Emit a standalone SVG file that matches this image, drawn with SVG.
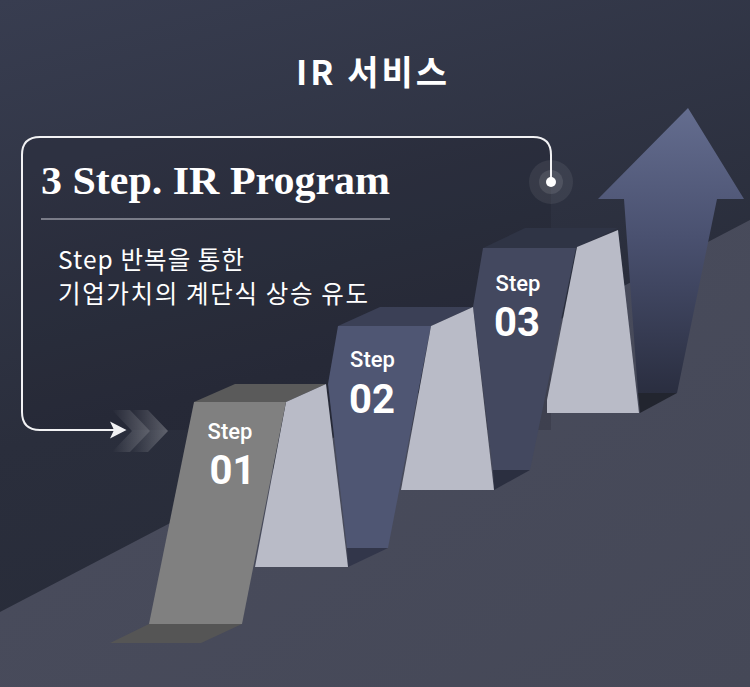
<svg xmlns="http://www.w3.org/2000/svg" width="750" height="687" viewBox="0 0 750 687">
<defs>
<linearGradient id="bg" x1="0" y1="0" x2="0.3" y2="1">
<stop offset="0" stop-color="#383d50"/>
<stop offset="0.6" stop-color="#2a2e3c"/>
<stop offset="1" stop-color="#272b38"/>
</linearGradient>
<linearGradient id="ground" x1="0" y1="0" x2="1" y2="1">
<stop offset="0" stop-color="#4a4d5e"/>
<stop offset="1" stop-color="#454857"/>
</linearGradient>
<linearGradient id="arrowG" x1="0" y1="0" x2="0" y2="1">
<stop offset="0" stop-color="#646d8f"/>
<stop offset="0.45" stop-color="#4a5170"/>
<stop offset="1" stop-color="#2a2e40"/>
</linearGradient>
<linearGradient id="chev" x1="0" y1="0" x2="1" y2="0">
<stop offset="0" stop-color="#ffffff" stop-opacity="0"/>
<stop offset="1" stop-color="#ffffff" stop-opacity="0.25"/>
</linearGradient>
<style>
.light{fill:#b9bbc7}
.stepLbl{font-family:Roboto,"Liberation Sans",sans-serif;font-weight:500;font-size:22px;fill:#ffffff;text-anchor:middle}
.stepNum{font-family:Roboto,"Liberation Sans",sans-serif;font-weight:700;font-size:40px;fill:#ffffff;text-anchor:middle}
.kr{font-family:"Noto Sans CJK KR","Noto Sans",sans-serif;fill:#ffffff}
.line{fill:none;stroke:#f2f2f4;stroke-width:2}
</style>
</defs>

<rect width="750" height="687" fill="url(#bg)"/>
<polygon points="0,612 750,220 750,687 0,687" fill="url(#ground)"/>

<text x="296" y="85" class="kr" font-size="34" font-weight="700" textLength="151" lengthAdjust="spacing">IR 서비스</text>

<g id="connectors">
<path d="M40,137 H533 Q551,137 551,155 V430 H40 Q22,430 22,412 V155 Q22,137 40,137 Z" fill="#14161f" fill-opacity="0.18" stroke="none"/>
<path d="M551,182 V155 Q551,137 533,137 H40 Q22,137 22,155 V412 Q22,430 40,430 H118" class="line"/>
<polygon points="110,421.5 126.5,430 110,438.5 114,430" fill="#f2f2f4"/>
<polygon points="112,410 130,410 150,431 130,452 112,452 132,431" fill="url(#chev)"/>
<polygon points="130,410 148,410 168,431 148,452 130,452 150,431" fill="url(#chev)"/>
</g>

<g id="arrow">
<polygon points="688,108 744,199 717,199 677,393 638,393 624,199 598,199" fill="url(#arrowG)"/>
<polygon points="638,393 677,393 640,413" fill="#22252f"/>
</g>

<g id="step3">
<polygon points="483,248 525,228 618,228 576,248" fill="#2f3445"/>
<polygon points="483,248 576,248 530,470 493,470 473,307" fill="#43485f"/>
<polygon points="493,470 530,470 494,490" fill="#2b2f40"/>
<polygon points="577,247 618,230 639,413 547,413 547,400" class="light"/>
<text x="518" y="291" class="stepLbl" font-size="23">Step</text>
<text x="517" y="336" class="stepNum" font-size="41">03</text>
</g>

<g id="step2">
<polygon points="338,326 380,307 473,307 431,326" fill="#3b4056"/>
<polygon points="338,326 431,326 388,548 347,548 328,384" fill="#4f5673"/>
<polygon points="347,548 388,548 348,567" fill="#32364a"/>
<polygon points="431,326 473,307 494,490 401,490" class="light"/>
<text x="372.5" y="367" class="stepLbl" font-size="23">Step</text>
<text x="372" y="412.5" class="stepNum" font-size="42">02</text>
</g>

<g id="step1">
<polygon points="194,402 235,384 326,384 286,402" fill="#5a5a5a"/>
<polygon points="286,402 326,384 348,567 255,567" class="light"/>
<polygon points="194,402 286,402 242,624 149,624" fill="#808080"/>
<polygon points="149,624 242,624 201,643 110,643" fill="#555555"/>
<text x="230" y="438.5" class="stepLbl">Step</text>
<text x="232.5" y="484" class="stepNum" font-size="38">01</text>
</g>

<g id="glow">
<circle cx="551" cy="182" r="22" fill="#ffffff" fill-opacity="0.07"/>
<circle cx="551" cy="182" r="12" fill="#ffffff" fill-opacity="0.1"/>
<circle cx="551" cy="182" r="5" fill="#ffffff"/>
</g>

<g id="heading">
<text x="41" y="194" font-family="'Liberation Serif',serif" font-weight="700" font-size="39" fill="#ffffff" textLength="349" lengthAdjust="spacingAndGlyphs">3 Step. IR Program</text>
<line x1="41" y1="219" x2="390" y2="219" stroke="#c8c9d2" stroke-width="1"/>
<text x="58" y="269" class="kr" font-size="24.5" textLength="186" lengthAdjust="spacing">Step 반복을 통한</text>
<text x="58" y="303" class="kr" font-size="24.5" textLength="310" lengthAdjust="spacing">기업가치의 계단식 상승 유도</text>
</g>
</svg>
